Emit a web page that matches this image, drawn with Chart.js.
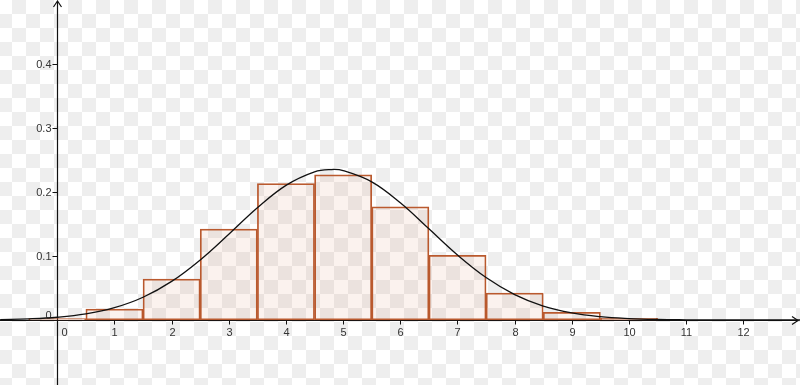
<!DOCTYPE html>
<html>
<head>
<meta charset="utf-8">
<script src="https://cdn.jsdelivr.net/npm/chart.js@4/dist/chart.umd.min.js"></script>
<style>
html,body{margin:0;padding:0;}
body{
  width:800px;height:385px;overflow:hidden;
  background-color:#fff;
  background-image:conic-gradient(#fff 25%, #eeeeee 0 50%, #fff 0 75%, #eeeeee 0);
  background-size:28px 28px;
  background-position:12px 0;
}
canvas{display:block;}
</style>
</head>
<body>
<canvas id="c" width="800" height="385"></canvas>
<script>
// Histogram bars (centre of each bar, width 1)
const barX = [0, 1, 2, 3, 4, 5, 6, 7, 8, 9, 10];
const barValues = [0.002, 0.017, 0.064, 0.142, 0.213, 0.227, 0.177, 0.101, 0.042, 0.012, 0.0025];

// Smooth curve
const curveX = [-1, -0.5, 0, 0.5, 1, 1.5, 2, 2.5, 3, 3.5, 4, 4.5, 4.8, 5, 5.5, 6, 6.5, 7, 7.5, 8, 8.5, 9, 9.5, 10, 10.5, 11, 11.5, 12, 12.5, 13];
const curveY = [0.0007, 0.0018, 0.0043, 0.0095, 0.0192, 0.0355, 0.0603, 0.0939, 0.134, 0.1753, 0.2104, 0.2315, 0.2351, 0.2335, 0.2159, 0.1831, 0.1424, 0.1015, 0.0663, 0.0397, 0.0218, 0.011, 0.0051, 0.0022, 0.0008, 0.0003, 0.0001, 0.00003, 0, 0];

// Tick labels
const xTickValues = [0, 1, 2, 3, 4, 5, 6, 7, 8, 9, 10, 11, 12];
const xTickLabels = ['0', '1', '2', '3', '4', '5', '6', '7', '8', '9', '10', '11', '12'];
const yTickValues = [0.1, 0.2, 0.3, 0.4];
const yTickLabels = ['0.1', '0.2', '0.3', '0.4'];

const axesPlugin = {
  id: 'axes',
  beforeDatasetsDraw(chart) {
    const ctx = chart.ctx;
    const xs = chart.scales.x, ys = chart.scales.y;
    const x0 = Math.round(xs.getPixelForValue(0)) + 0.5;
    const y0 = Math.round(ys.getPixelForValue(0)) + 0.5;
    ctx.save();
    ctx.strokeStyle = '#111';
    ctx.lineWidth = 1.2;
    // x axis
    ctx.beginPath();
    ctx.moveTo(0, y0);
    ctx.lineTo(797, y0);
    ctx.stroke();
    ctx.beginPath();
    ctx.moveTo(792, y0 - 4);
    ctx.lineTo(798, y0);
    ctx.lineTo(792, y0 + 4);
    ctx.stroke();
    // y axis
    ctx.beginPath();
    ctx.moveTo(x0, 385);
    ctx.lineTo(x0, 2);
    ctx.stroke();
    ctx.beginPath();
    ctx.moveTo(x0 - 4, 7);
    ctx.lineTo(x0, 1);
    ctx.lineTo(x0 + 4, 7);
    ctx.stroke();
    // ticks
    ctx.lineWidth = 1;
    ctx.font = '11px "Liberation Sans", Arial, sans-serif';
    ctx.fillStyle = '#333';
    ctx.textBaseline = 'middle';
    ctx.textAlign = 'center';
    xTickValues.forEach((v, i) => {
      const px = Math.round(xs.getPixelForValue(v)) + 0.5;
      ctx.beginPath();
      ctx.moveTo(px, y0);
      ctx.lineTo(px, y0 + 4);
      ctx.stroke();
      ctx.fillText(xTickLabels[i], v === 0 ? px + 7 : px, y0 + 12);
    });
    ctx.textAlign = 'right';
    yTickValues.forEach((v, i) => {
      const py = Math.round(ys.getPixelForValue(v)) + 0.5;
      ctx.beginPath();
      ctx.moveTo(x0 - 5, py);
      ctx.lineTo(x0, py);
      ctx.stroke();
      ctx.fillText(yTickLabels[i], x0 - 6, py);
    });
    ctx.fillText('0', x0 - 6, y0 - 5);
    ctx.restore();
  }
};

new Chart(document.getElementById('c'), {
  data: {
    datasets: [
      {
        type: 'line',
        order: 0,
        data: curveX.map((x, i) => ({x: x, y: curveY[i]})),
        borderColor: '#111',
        borderWidth: 1.3,
        pointRadius: 0,
        tension: 0.4,
        fill: false
      },
      {
        type: 'bar',
        order: 1,
        data: barX.map((x, i) => ({x: x, y: barValues[i]})),
        backgroundColor: 'rgba(215, 110, 70, 0.09)',
        borderColor: '#b9592e',
        borderWidth: 1.1,
        borderSkipped: false,
        barPercentage: 1,
        categoryPercentage: 1,
        grouped: false
      }
    ]
  },
  options: {
    responsive: false,
    devicePixelRatio: 1,
    animation: false,
    layout: {padding: 0},
    plugins: {legend: {display: false}, tooltip: {enabled: false}},
    scales: {
      x: {type: 'linear', display: false, offset: false, min: -1.002, max: 12.991},
      y: {type: 'linear', display: false, min: -0.1016, max: 0.5}
    }
  },
  plugins: [axesPlugin]
});
</script>
</body>
</html>
